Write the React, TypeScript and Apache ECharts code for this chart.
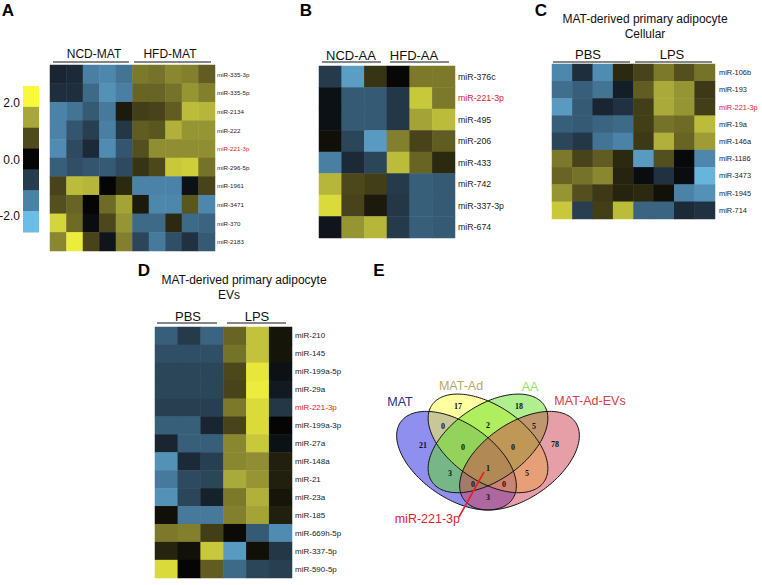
import React, { useEffect, useRef } from 'react';
import * as echarts from 'echarts';

// ---------------- DATA ----------------
const colorStops = ['#6cbde6', '#4a82a6', '#263c4e', '#050505', '#4f4a1c', '#a8a83a', '#f8f83c'];
const colorbarTicks = ['2.0', '0.0', '-2.0'];

const groupsA = ['NCD-MAT', 'HFD-MAT'];
const colsA = ['NCD-MAT-1', 'NCD-MAT-2', 'NCD-MAT-3', 'NCD-MAT-4', 'NCD-MAT-5', 'HFD-MAT-1', 'HFD-MAT-2', 'HFD-MAT-3', 'HFD-MAT-4', 'HFD-MAT-5'];
const rowsA = ['miR-335-3p', 'miR-335-5p', 'miR-2134', 'miR-222', 'miR-221-3p', 'miR-296-5p', 'miR-1961', 'miR-3471', 'miR-370', 'miR-2183'];
const valsA = [
  [-0.4, -0.45, -1.3, -1.4, -1.2, 1.0, 0.95, 1.1, 1.05, 0.8],
  [-0.5, -0.5, -1.1, -1.5, -1.3, 0.85, 0.85, 0.95, 1.2, 1.05],
  [-1.35, -1.2, -0.95, -1.25, 0.2, 0.55, 0.6, 0.8, 1.5, 1.45],
  [-1.35, -0.9, -0.7, -1.3, -0.6, 0.8, 0.75, 1.4, 1.2, 1.2],
  [-1.45, -0.8, -0.45, -1.45, -0.9, 0.7, 1.15, 1.15, 1.15, 1.15],
  [-1.0, -0.85, -0.9, -0.95, -0.8, 0.45, 0.65, 1.6, 1.65, 0.95],
  [0.6, 1.5, 1.45, 0.0, 0.35, -1.35, -1.35, -1.35, -0.15, 0.6],
  [0.7, 0.85, 0.0, 0.9, 1.3, 0.2, -1.4, -1.4, 0.75, -1.4],
  [1.7, 0.9, -0.1, 0.65, 1.2, -1.1, -1.1, 0.35, -1.1, -1.05],
  [1.1, 1.9, 0.6, -0.2, 1.05, -0.75, -1.25, -0.85, -0.55, -0.95],
];

const groupsB = ['NCD-AA', 'HFD-AA'];
const colsB = ['NCD-AA-1', 'NCD-AA-2', 'NCD-AA-3', 'HFD-AA-1', 'HFD-AA-2', 'HFD-AA-3'];
const rowsB = ['miR-376c', 'miR-221-3p', 'miR-495', 'miR-206', 'miR-433', 'miR-742', 'miR-337-3p', 'miR-674'];
const valsB = [
  [-0.65, -1.65, 0.45, 0.02, 1.0, 1.0],
  [-0.15, -0.95, -0.95, -0.6, 1.6, 1.0],
  [-0.15, -0.95, -0.95, -0.6, 1.3, 1.5],
  [0.1, -0.75, -1.6, 1.05, 0.6, 0.8],
  [-1.3, -0.45, -0.75, 1.5, 0.85, 0.35],
  [1.45, 0.65, 0.55, -0.65, -1.0, -0.95],
  [1.75, 0.6, 0.2, -0.6, -1.0, -0.95],
  [-0.2, 1.2, 1.45, -0.65, -1.0, -0.95],
];

const titleC = ['MAT-derived primary adipocyte', 'Cellular'];
const groupsC = ['PBS', 'LPS'];
const colsC = ['PBS-1', 'PBS-2', 'PBS-3', 'PBS-4', 'LPS-1', 'LPS-2', 'LPS-3', 'LPS-4'];
const rowsC = ['miR-106b', 'miR-193', 'miR-221-3p', 'miR-19a', 'miR-146a', 'miR-1186', 'miR-3473', 'miR-1945', 'miR-714'];
const valsC = [
  [-1.4, -0.5, -1.45, 0.35, 0.6, 1.0, 0.7, 0.95],
  [-1.15, -1.0, -1.2, -0.3, 0.8, 1.35, 1.2, 0.5],
  [-1.6, -0.95, -0.4, -0.55, 0.55, 1.35, 1.2, 0.55],
  [-1.0, -0.95, -1.05, -1.1, 0.55, 0.95, 0.9, 1.5],
  [-0.75, -0.6, -1.2, -1.35, 0.5, 1.4, 0.85, 1.25],
  [1.0, 0.6, 0.8, 0.35, -1.6, 0.7, -0.05, -1.4],
  [0.85, 0.95, 1.1, 0.3, -0.1, -0.55, -0.1, -1.9],
  [1.2, 0.7, 0.5, 0.3, 0.35, 0.12, -1.35, -1.5],
  [1.6, -0.7, 0.55, 1.5, -1.05, -1.05, -0.45, -0.55],
];

const titleD = ['MAT-derived primary adipocyte', 'EVs'];
const groupsD = ['PBS', 'LPS'];
const colsD = ['PBS-1', 'PBS-2', 'PBS-3', 'LPS-1', 'LPS-2', 'LPS-3'];
const rowsD = ['miR-210', 'miR-145', 'miR-199a-5p', 'miR-29a', 'miR-221-3p', 'miR-199a-3p', 'miR-27a', 'miR-148a', 'miR-21', 'miR-23a', 'miR-185', 'miR-669h-5p', 'miR-337-5p', 'miR-590-5p'];
const valsD = [
  [-1.0, -0.65, -1.05, 0.85, 1.55, 0.15],
  [-0.85, -0.85, -0.85, 0.95, 1.55, 0.15],
  [-0.75, -0.75, -0.75, 0.65, 1.85, -0.15],
  [-0.75, -0.75, -0.75, 0.6, 1.9, -0.25],
  [-0.7, -0.7, -0.7, 1.0, 1.75, -0.6],
  [-1.0, -1.0, -0.4, 0.6, 1.75, 0.0],
  [-0.4, -1.0, -1.0, 1.1, 1.6, -0.15],
  [-1.5, -0.45, -0.7, 1.1, 1.15, 0.25],
  [-1.25, -0.8, -0.75, 1.35, 1.2, 0.25],
  [-1.5, -0.75, -0.35, 1.0, 1.4, 0.15],
  [0.1, -1.25, -1.25, 1.05, 1.3, 0.25],
  [1.0, 1.05, 0.55, 0.05, -0.95, -1.45],
  [0.3, 0.12, 1.6, -1.6, 0.1, -0.6],
  [1.75, 0.0, 0.8, -1.1, -0.75, -0.7],
];

const vennSets = ['MAT', 'MAT-Ad', 'AA', 'MAT-Ad-EVs'];
const vennCounts = [17, 18, 0, 2, 5, 21, 0, 0, 78, 3, 1, 5, 0, 0, 3];
const highlight = 'miR-221-3p';

// ---------------- LAYOUT / STYLE ----------------
const SANS = '"Liberation Sans", Arial, Helvetica, sans-serif';
const SERIF = '"Liberation Serif", "Times New Roman", serif';

const panels = [
  { rows: rowsA, cols: colsA, vals: valsA, grid: { left: 50, top: 65, width: 165, height: 186 }, fs: 6.2, margin: 2,
    groups: groupsA, gx: [94, 170], gy: 54, gfs: 12, lines: [[53, 129], [134, 211]], ly: 62 },
  { rows: rowsB, cols: colsB, vals: valsB, grid: { left: 319, top: 66, width: 136, height: 172 }, fs: 8.8, margin: 3,
    groups: groupsB, gx: [351, 414], gy: 55, gfs: 13, lines: [[322, 381], [390, 449]], ly: 62 },
  { rows: rowsC, cols: colsC, vals: valsC, grid: { left: 552, top: 64, width: 163, height: 155 }, fs: 7.4, margin: 4,
    groups: groupsC, gx: [588, 672], gy: 54, gfs: 13, lines: [[553, 630], [635, 712]], ly: 62 },
  { rows: rowsD, cols: colsD, vals: valsD, grid: { left: 155, top: 327, width: 137, height: 251 }, fs: 8, margin: 3,
    groups: groupsD, gx: [188, 257], gy: 316, gfs: 13, lines: [[157, 217], [227, 286]], ly: 323 },
];

const VENN = { x0: 383, y0: 542, sx: 210, sy: 173 };
const vennEllipses = [
  { cx: 0.35, cy: 0.47, a: 0.35, b: 0.2, rot: 135, fill: 'rgba(32,32,224,0.5)' },
  { cx: 0.5, cy: 0.57, a: 0.35, b: 0.2, rot: 135, fill: 'rgba(255,255,64,0.5)' },
  { cx: 0.5, cy: 0.57, a: 0.35, b: 0.2, rot: 45, fill: 'rgba(96,224,32,0.5)' },
  { cx: 0.65, cy: 0.47, a: 0.35, b: 0.2, rot: 45, fill: 'rgba(208,64,80,0.5)' },
];
const vennLabelPos = [[400, 402], [461, 386], [530, 387], [590, 401]];
const vennLabelColors = ['#2b2b8c', '#b9aa62', '#92e262', '#d83a4a'];
const vennCountPos = [
  [458, 406], [519, 406], [443, 426], [488, 425], [534, 426], [423, 445], [463, 447], [513, 447],
  [555, 444], [450, 473], [488, 468], [527, 473], [473, 484], [504, 484], [488, 497],
];

function ellipsePoints(e: any) {
  const pts: number[][] = [];
  const r = (e.rot * Math.PI) / 180;
  for (let i = 0; i < 180; i++) {
    const t = (i / 180) * Math.PI * 2;
    const ux = e.a * Math.cos(t);
    const uy = e.b * Math.sin(t);
    const x = e.cx + ux * Math.cos(r) - uy * Math.sin(r);
    const y = e.cy + ux * Math.sin(r) + uy * Math.cos(r);
    pts.push([VENN.x0 + x * VENN.sx, VENN.y0 - y * VENN.sy]);
  }
  return pts;
}

function txt(text: string, x: number, y: number, size: number, opts: any = {}) {
  return {
    type: 'text',
    x,
    y,
    silent: true,
    style: {
      text,
      fill: opts.fill || '#111',
      fontSize: size,
      fontFamily: opts.family || SANS,
      fontWeight: opts.weight || 'normal',
      align: opts.align || 'center',
      verticalAlign: 'middle',
    },
  };
}

function line(x1: number, y1: number, x2: number, y2: number, stroke = '#111', w = 1.2) {
  return { type: 'line', silent: true, shape: { x1, y1, x2, y2 }, style: { stroke, lineWidth: w } };
}

function buildOption() {
  const grids: any[] = [];
  const xAxes: any[] = [];
  const yAxes: any[] = [];
  const series: any[] = [];
  const graphic: any[] = [];

  panels.forEach((p, i) => {
    grids.push({ ...p.grid, containLabel: false });
    xAxes.push({ type: 'category', gridIndex: i, data: p.cols, show: false });
    yAxes.push({
      type: 'category',
      gridIndex: i,
      data: p.rows,
      inverse: true,
      position: 'right',
      axisLine: { show: false },
      axisTick: { show: false },
      splitLine: { show: false },
      axisLabel: {
        fontSize: p.fs,
        fontFamily: SANS,
        color: '#222',
        margin: p.margin,
        formatter: (v: string) => (v === highlight ? '{r|' + v + '}' : v),
        rich: { r: { color: '#e0202a', fontSize: p.fs, fontFamily: SANS } },
      },
    });
    const data: any[] = [];
    p.vals.forEach((row, ri) => row.forEach((v, ci) => data.push([ci, ri, v])));
    series.push({
      type: 'heatmap',
      xAxisIndex: i,
      yAxisIndex: i,
      data,
      silent: true,
      itemStyle: { borderWidth: 0 },
    });
    p.groups.forEach((g, gi) => {
      graphic.push(txt(g, p.gx[gi], p.gy, p.gfs));
      graphic.push(line(p.lines[gi][0], p.ly, p.lines[gi][1], p.ly));
    });
  });

  // titles
  graphic.push(txt(titleC[0], 645, 19, 12));
  graphic.push(txt(titleC[1], 645, 34, 12));
  graphic.push(txt(titleD[0], 244, 280, 12));
  graphic.push(txt(titleD[1], 229, 295, 12));

  // panel letters
  const letters: [string, number, number][] = [['A', 8, 10], ['B', 306, 10], ['C', 541, 10], ['D', 144, 270], ['E', 379, 270]];
  letters.forEach(([l, x, y]) => graphic.push(txt(l, x, y, 17, { weight: 'bold', fill: '#000' })));

  // colorbar
  const cbTop = 86, cbH = 146, cbX = 23, cbW = 16;
  const n = colorStops.length;
  for (let k = 0; k < n; k++) {
    graphic.push({
      type: 'rect',
      silent: true,
      shape: { x: cbX, y: cbTop + (k * cbH) / n, width: cbW, height: cbH / n + 0.5 },
      style: { fill: colorStops[n - 1 - k] },
    });
  }
  const tickY = [103, 160, 216];
  colorbarTicks.forEach((t, k) => graphic.push(txt(t, 20, tickY[k], 12, { align: 'right', fill: '#111' })));

  // Venn
  vennEllipses.forEach((e) => {
    graphic.push({ type: 'polygon', silent: true, shape: { points: ellipsePoints(e) }, style: { fill: e.fill, stroke: 'none' } });
  });
  vennEllipses.forEach((e) => {
    graphic.push({ type: 'polygon', silent: true, shape: { points: ellipsePoints(e) }, style: { fill: 'none', stroke: '#111', lineWidth: 1 } });
  });
  vennCounts.forEach((c, k) => {
    graphic.push(txt(String(c), vennCountPos[k][0], vennCountPos[k][1], 8, { family: SERIF, weight: 'bold', fill: '#111' }));
  });
  vennSets.forEach((s, k) => {
    graphic.push(txt(s, vennLabelPos[k][0], vennLabelPos[k][1], 12.5, { fill: vennLabelColors[k] }));
  });
  graphic.push(line(484, 472, 459, 517, '#e0202a', 1.6));
  graphic.push(txt(highlight, 460, 519, 12.5, { align: 'right', fill: '#e0202a' }));

  return {
    animation: false,
    backgroundColor: '#fff',
    grid: grids,
    xAxis: xAxes,
    yAxis: yAxes,
    visualMap: {
      type: 'continuous',
      show: false,
      min: -2,
      max: 2,
      dimension: 2,
      seriesIndex: [0, 1, 2, 3],
      inRange: { color: colorStops },
    },
    series,
    graphic,
  };
}

export default function App() {
  const ref = useRef<HTMLDivElement>(null);
  useEffect(() => {
    document.body.style.margin = '0';
    const chart = echarts.init(ref.current as HTMLDivElement, null, { renderer: 'svg' });
    chart.setOption(buildOption() as any);
    return () => chart.dispose();
  }, []);
  return <div ref={ref} style={{ width: 762, height: 585 }} />;
}
